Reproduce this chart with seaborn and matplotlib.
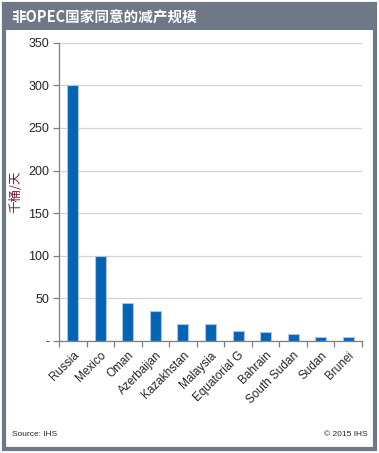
import numpy as np
import pandas as pd
import seaborn as sns
import matplotlib.pyplot as plt
from matplotlib.patches import Rectangle

sns.set_theme(style='white')
plt.rcParams['font.family'] = ['Liberation Sans', 'Noto Sans CJK SC', 'DejaVu Sans']

## data
countries = ['Russia', 'Mexico', 'Oman', 'Azerbaijan', 'Kazakhstan', 'Malaysia',
             'Equatorial G', 'Bahrain', 'South Sudan', 'Sudan', 'Brunei']
cuts = [300, 100, 45, 35, 20, 20, 12, 10, 8, 5, 5]
yticks = [0, 50, 100, 150, 200, 250, 300, 350]
ytick_labels = ['-', '50', '100', '150', '200', '250', '300', '350']

df = pd.DataFrame({'country': countries, 'cut': cuts})

W, H = 379, 453
fig = plt.figure(figsize=(W / 100, H / 100), dpi=100)
fig.patch.set_facecolor('white')

# frame and title bar
grey = '#6e7886'
fig.patches.append(Rectangle((4 / W, 4 / H), (W - 8) / W, (H - 8) / H, transform=fig.transFigure,
                             facecolor='white', edgecolor=grey, linewidth=3, zorder=-2))
fig.patches.append(Rectangle((3 / W, 1 - 30 / H), (W - 6) / W, 27 / H, transform=fig.transFigure,
                             facecolor=grey, edgecolor='none', zorder=-1))
fig.text(11 / W, 1 - 17 / H, '非OPEC国家同意的减产规模', color='white', fontsize=10.5,
         fontweight='bold', va='center', ha='left',
         family=['Noto Sans CJK SC', 'DejaVu Sans'])

ax = fig.add_axes([59 / W, 1 - 341 / H, (362 - 59) / W, (341 - 42.7) / H])
ax.set_zorder(1)
ax.patch.set_alpha(0)
sns.barplot(data=df, x='country', y='cut', color='#0563b4', width=0.4,
            edgecolor='#a9c4e4', linewidth=0.8, saturation=1, ax=ax)

ax.set_xlim(-0.5, len(countries) - 0.5)
ax.set_ylim(0, 350)
ax.set_yticks(yticks)
ax.set_yticklabels(ytick_labels, fontsize=9)
ax.yaxis.grid(True, color='#d4d4d4', linewidth=0.9)
ax.set_axisbelow(True)

ax.set_xticks(range(len(countries)))
ax.set_xticklabels(countries, rotation=45, ha='right', rotation_mode='anchor', fontsize=8.5)
ax.set_xticks(np.arange(-0.5, len(countries)), minor=True)
ax.tick_params(axis='x', which='major', length=0, pad=6)
ax.tick_params(axis='x', which='minor', length=4, width=0.9, color='#7f7f7f', bottom=True)
ax.tick_params(axis='y', length=4, width=0.9, color='#7f7f7f', left=True, pad=3)

ax.set_xlabel('')
ax.set_ylabel('千桶/天', color='#7a1a3a', fontsize=9, labelpad=4,
              family=['Noto Sans CJK SC', 'DejaVu Sans'])

for side in ['top', 'right']:
    ax.spines[side].set_visible(False)
for side in ['left', 'bottom']:
    ax.spines[side].set_color('#7f7f7f')
    ax.spines[side].set_linewidth(0.9)

fig.text(12 / W, 1 - 434 / H, 'Source: IHS', fontsize=6, va='center', ha='left')
fig.text(367 / W, 1 - 434 / H, '© 2015 IHS', fontsize=6, va='center', ha='right')

fig.savefig('out.png', dpi=100)
